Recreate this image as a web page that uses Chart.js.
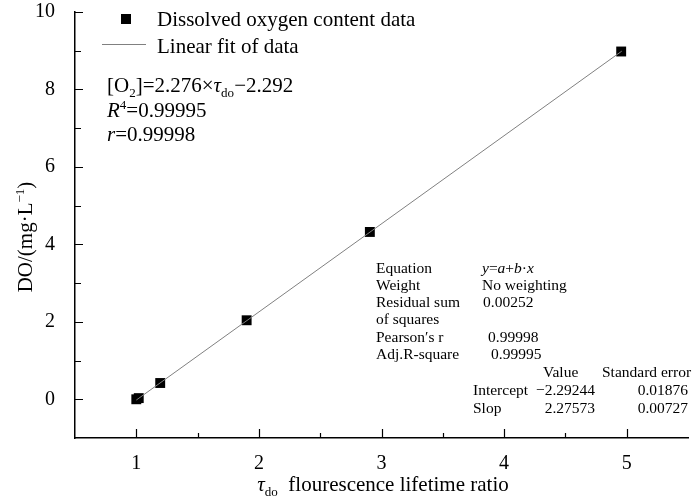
<!DOCTYPE html>
<html lang="en">
<head>
  <meta charset="UTF-8" />
  <title>DO calibration</title>
  <script src="https://cdn.jsdelivr.net/npm/chart.js"></script>
  <style>
    body {
      margin: 0;
      background: #fff;
    }
    #wrap {
      width: 695px;
      height: 501px;
    }
  </style>
</head>
<body>
  <div id="wrap">
    <canvas id="doChart" width="695" height="501"></canvas>
  </div>

  <script>
    const tauValues = [1.00, 1.02, 1.195, 1.90, 2.905, 4.955];
    const doValues = [0.00, 0.03, 0.42, 2.04, 4.32, 8.98];
    // fitted line end points
    const fitTau = [1.00, 4.96];
    const fitDo = [-0.02, 8.99];

    const xTickLabels = [1, 2, 3, 4, 5];
    const yTickLabels = [0, 2, 4, 6, 8, 10];

    const legendLabels = ['Dissolved oxygen content data', 'Linear fit of data'];

    const serif = '"Liberation Serif", "Times New Roman", serif';

    // draw a line of text pieces; sub / sup / italic pieces
    function drawRuns(ctx, x, y, runs, size, align) {
      let total = 0;
      const parts = runs.map(r => {
        const s = (r.sub || r.sup) ? size * 0.62 : size;
        const f = (r.it ? 'italic ' : '') + s + 'px ' + serif;
        ctx.font = f;
        const w = ctx.measureText(r.t).width;
        total += w;
        return { r, f, w };
      });
      let cx = x;
      if (align === 'right') cx = x - total;
      if (align === 'center') cx = x - total / 2;
      ctx.textAlign = 'left';
      ctx.textBaseline = 'alphabetic';
      parts.forEach(p => {
        ctx.font = p.f;
        let dy = 0;
        if (p.r.sub) dy = size * 0.22;
        if (p.r.sup) dy = -size * 0.38;
        ctx.fillText(p.r.t, cx, y + dy);
        cx += p.w;
      });
    }

    const extras = {
      id: 'extras',
      afterDraw(chart) {
        const ctx = chart.ctx;
        const xs = chart.scales.x;
        const ys = chart.scales.y;
        const area = chart.chartArea;
        ctx.save();
        ctx.strokeStyle = '#000';
        ctx.lineWidth = 1.2;

        // inward ticks
        ctx.beginPath();
        for (let v = 0; v <= 10; v++) {
          const py = Math.round(ys.getPixelForValue(v)) + 0.5;
          const len = v % 2 === 0 ? 8 : 6;
          ctx.moveTo(area.left, py);
          ctx.lineTo(area.left + len, py);
        }
        for (let v = 1; v <= 5; v += 0.5) {
          const px = Math.round(xs.getPixelForValue(v)) + 0.5;
          const len = Number.isInteger(v) ? 9 : 5;
          ctx.moveTo(px, area.bottom);
          ctx.lineTo(px, area.bottom - len);
        }
        ctx.stroke();

        // legend
        const ds0 = chart.data.datasets[1];
        const ds1 = chart.data.datasets[0];
        ctx.fillStyle = ds0.backgroundColor;
        ctx.fillRect(121, 14, 10, 10);
        ctx.strokeStyle = ds1.borderColor;
        ctx.lineWidth = 1;
        ctx.beginPath();
        ctx.moveTo(102, 44.5);
        ctx.lineTo(146, 44.5);
        ctx.stroke();
        ctx.fillStyle = '#000';
        drawRuns(ctx, 157, 26, [{ t: legendLabels[0] }], 21);
        drawRuns(ctx, 157, 53, [{ t: legendLabels[1] }], 21);

        // fit equation
        drawRuns(ctx, 107, 92, [
          { t: '[O' }, { t: '2', sub: true }, { t: ']=2.276×' },
          { t: 'τ', it: true }, { t: 'do', sub: true }, { t: '−2.292' }
        ], 21);
        drawRuns(ctx, 107, 117, [{ t: 'R', it: true }, { t: '4', sup: true }, { t: '=0.99995' }], 21);
        drawRuns(ctx, 107, 141, [{ t: 'r', it: true }, { t: '=0.99998' }], 21);

        // fit report table
        const fs = 15.5;
        const rows = [
          [273, 'Equation', [{ t: 'y', it: true }, { t: '=' }, { t: 'a', it: true }, { t: '+' }, { t: 'b', it: true }, { t: '·' }, { t: 'x', it: true }], 482],
          [290, 'Weight', [{ t: 'No weighting' }], 482],
          [307, 'Residual sum', [{ t: '0.00252' }], 483],
          [324, 'of squares', [], 483],
          [342, 'Pearson\u2032s r', [{ t: '0.99998' }], 488],
          [359, 'Adj.R-square', [{ t: '0.99995' }], 491]
        ];
        rows.forEach(r => {
          drawRuns(ctx, 376, r[0], [{ t: r[1] }], fs);
          if (r[2].length) drawRuns(ctx, r[3], r[0], r[2], fs);
        });
        drawRuns(ctx, 543, 377, [{ t: 'Value' }], fs);
        drawRuns(ctx, 602, 377, [{ t: 'Standard error' }], fs);
        drawRuns(ctx, 473, 395, [{ t: 'Intercept' }], fs);
        drawRuns(ctx, 595, 395, [{ t: '−2.29244' }], fs, 'right');
        drawRuns(ctx, 688, 395, [{ t: '0.01876' }], fs, 'right');
        drawRuns(ctx, 473, 413, [{ t: 'Slop' }], fs);
        drawRuns(ctx, 595, 413, [{ t: '2.27573' }], fs, 'right');
        drawRuns(ctx, 688, 413, [{ t: '0.00727' }], fs, 'right');

        // axis titles
        drawRuns(ctx, 383, 491, [
          { t: 'τ', it: true }, { t: 'do', sub: true }, { t: '  flourescence lifetime ratio' }
        ], 21, 'center');
        ctx.save();
        ctx.translate(32, 237);
        ctx.rotate(-Math.PI / 2);
        drawRuns(ctx, 0, 0, [{ t: 'DO/(mg·L' }, { t: '−1', sup: true }, { t: ')' }], 21, 'center');
        ctx.restore();

        ctx.restore();
      }
    };

    const ctx = document.getElementById('doChart').getContext('2d');
    const doChart = new Chart(ctx, {
      type: 'scatter',
      data: {
        datasets: [
          {
            type: 'line',
            label: legendLabels[1],
            data: fitTau.map((t, i) => ({ x: t, y: fitDo[i] })),
            borderColor: '#808080',
            borderWidth: 1,
            pointRadius: 0,
            fill: false
          },
          {
            label: legendLabels[0],
            data: tauValues.map((t, i) => ({ x: t, y: doValues[i] })),
            pointStyle: 'rect',
            pointRadius: 7,
            backgroundColor: '#000',
            borderColor: '#000',
            borderWidth: 0
          }
        ]
      },
      options: {
        responsive: false,
        animation: false,
        layout: { padding: { top: 12, right: 5, left: 0, bottom: 0 } },
        plugins: {
          legend: { display: false },
          tooltip: { enabled: false }
        },
        scales: {
          x: {
            type: 'linear',
            min: 0.5,
            max: 5.5,
            afterFit: s => { s.height = 63; s.paddingLeft = 0; s.paddingRight = 0; },
            grid: { display: false },
            border: { display: true, color: '#000', width: 1.5 },
            ticks: {
              stepSize: 0.5,
              padding: 6,
              color: '#000',
              font: { family: serif, size: 20 },
              autoSkip: false,
              maxRotation: 0,
              callback: v => xTickLabels.includes(v) ? String(v) : ''
            }
          },
          y: {
            type: 'linear',
            min: -1,
            max: 10,
            afterFit: s => { s.width = 75; s.paddingTop = 0; s.paddingBottom = 0; },
            grid: { display: false },
            border: { display: true, color: '#000', width: 1.5 },
            ticks: {
              stepSize: 1,
              padding: 12,
              color: '#000',
              font: { family: serif, size: 20 },
              autoSkip: false,
              callback: v => yTickLabels.includes(v) ? String(v) : ''
            }
          }
        }
      },
      plugins: [extras]
    });
  </script>
</body>
</html>
